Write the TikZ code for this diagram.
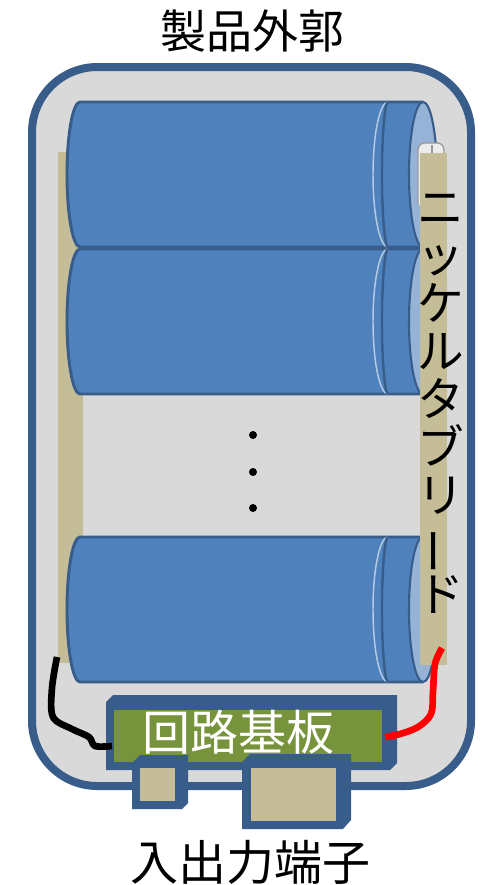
\documentclass[tikz,border=0pt]{standalone}
\usepackage{fontspec}
\newfontfamily\jp{Noto Sans CJK JP}
\usepackage{graphicx}

\definecolor{edgeblue}{HTML}{385D8A}
\definecolor{cellblue}{HTML}{4F81BD}
\definecolor{faceblue}{HTML}{95B3D7}
\definecolor{tabtan}{HTML}{C4BD97}
\definecolor{casegray}{HTML}{D9D9D9}
\definecolor{boardgreen}{HTML}{77933C}
\definecolor{wirered}{HTML}{FF0000}

\tikzset{
  casewall/.style={draw=edgeblue, fill=casegray, line width=6pt, rounded corners=49pt},
  cellbody/.style={draw=edgeblue, fill=cellblue, line width=2.2pt, line join=round},
  cellface/.style={draw=edgeblue, fill=faceblue, line width=1.6pt},
  groovelight/.style={draw=faceblue!70!white, line width=1.1pt},
  groovedark/.style={draw=edgeblue, line width=1.8pt},
  tabstrip/.style={fill=tabtan},
  tabtip/.style={draw=gray!80, fill=gray!15, line width=1pt, rounded corners=5pt},
  pcb/.style={fill=edgeblue},
  pcbtop/.style={fill=boardgreen},
  pad/.style={fill=tabtan},
  wire/.style={line width=5pt, line cap=butt, line join=round},
  label/.style={font=\jp\fontsize{34.5pt}{36pt}\selectfont, inner sep=0pt},
  dotmark/.style={circle, fill=black, inner sep=0pt, minimum size=6pt},
}

% one cylindrical cell lying on its side: #1 = top edge, #2 = bottom edge
\newcommand\drawcell[2]{%
  \pgfmathsetmacro\cellmid{(#1+#2)/2}%
  \pgfmathsetmacro\cellry{(#2-#1)/2}%
  \filldraw[cellbody] (80,#1) -- (423,#1) -- (423,#2) -- (80,#2)
     arc[start angle=90, end angle=270, x radius=13, y radius=\cellry] -- cycle;
  \draw[groovelight] (388,#1) arc[start angle=270, end angle=90, x radius=15, y radius=\cellry];
  \draw[groovedark] (388,#1) arc[start angle=270, end angle=90, x radius=6, y radius=\cellry];
  \filldraw[cellface] (423,\cellmid) ellipse[x radius=14, y radius=\cellry];
}

\begin{document}
\begin{tikzpicture}[x=0.75pt,y=-0.75pt]
\useasboundingbox (0,0) rectangle (490,885);

% housing
\draw[casewall] (32,67) rectangle (471,786);
\node[label] (housing) at (252,31) {製品外郭};

% negative side tab strip (behind the cells)
\fill[tabstrip] (58,152) rectangle (83,663);

% cell stack
\drawcell{102}{247}
\drawcell{249}{394}
\drawcell{537}{682}

% omitted cells
\node[dotmark] (dotA) at (253,435) {};
\node[dotmark] (dotB) at (253,472) {};
\node[dotmark] (dotC) at (253,508) {};

% positive side tab: folded tip and strip
\draw[tabtip] (418,205) -- (418,143) -- (444,143) -- (444,205);
\draw[gray!80, line width=0.8pt] (432,145) -- (432,154);
\fill[tabstrip] (420,153) rectangle (447,665);

% lead label, set top to bottom
\node[label, font=\jp\fontsize{35pt}{36pt}\selectfont, align=center] (lead) at (441,404)
  {ニ\\ッ\\ケ\\ル\\タ\\ブ\\リ\\\rotatebox[origin=c]{90}{ー}\\ド};

% circuit board
\fill[pcb] (106,702) -- (113,695) -- (397,695) -- (397,763) -- (390,770) -- (106,770) -- cycle;
\fill[pcbtop] (114,710) rectangle (382,762);
\node[label, font=\jp\fontsize{36pt}{36pt}\selectfont, text=white] (pcblabel) at (238,732) {回路基板};

% input/output terminals
\fill[pcb] (132,763) -- (140,755) -- (188,755) -- (188,803) -- (182,809) -- (132,809) -- cycle;
\fill[pad] (140,768) rectangle (175,801);
\fill[pcb] (242,762) -- (250,754) -- (351,754) -- (351,820) -- (343,829) -- (242,829) -- cycle;
\fill[pad] (251,768) rectangle (336,821);
\node[label, font=\jp\fontsize{36pt}{36pt}\selectfont] (iolabel) at (250,862) {入出力端子};

% wiring from the tabs to the board
\coordinate (negtab) at (57,657);
\coordinate (negpad) at (112,746);
\coordinate (postab) at (442,648);
\coordinate (pospad) at (385,737);
\draw[wire, black] plot[smooth, tension=0.55] coordinates
  {(negtab) (52,688) (53,717) (72,729) (89,737) (95,746) (negpad)};
\draw[wire, wirered] plot[smooth, tension=0.55] coordinates
  {(postab) (435,664) (433,692) (431,714) (418,727) (400,734) (pospad)};
\end{tikzpicture}
\end{document}
